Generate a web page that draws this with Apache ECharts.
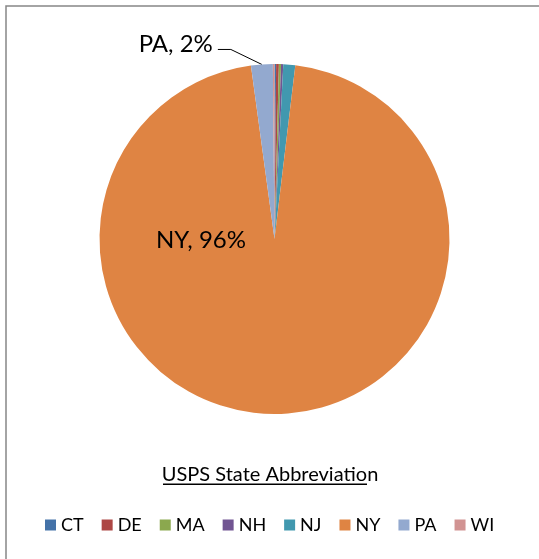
<!DOCTYPE html>
<html>
<head>
<meta charset="utf-8">
<style>
  html, body { margin: 0; padding: 0; background: #fff; }
  #chart { width: 539px; height: 559px; }
</style>
<script src="https://cdn.jsdelivr.net/npm/echarts@6/dist/echarts.min.js"></script>
</head>
<body>
<div id="chart"></div>
<script>
// Share of records by mailing state (percent)
const states = ['CT', 'DE', 'MA', 'NH', 'NJ', 'NY', 'PA', 'WI'];
const shares = [0.15, 0.25, 0.2, 0.2, 1.1, 95.9, 2.0, 0.15];
const stateColors = ['#4472A8', '#AD4744', '#8BA84E', '#715592', '#4198AF', '#DF8443', '#93A9CF', '#D19392'];
const labelledStates = ['NY', 'PA'];
const legendTitle = 'USPS State Abbreviation';

const FONT = 'Lato, "Open Sans", sans-serif';
const CX = 274.5, CY = 239, R = 175;

// mid-angle of a slice, measured clockwise from 12 o'clock (radians)
function midAngle(idx) {
  const total = shares.reduce((a, b) => a + b, 0);
  let before = 0;
  for (let i = 0; i < idx; i++) before += shares[i];
  return ((before + shares[idx] / 2) / total) * Math.PI * 2;
}

const chart = echarts.init(document.getElementById('chart'), null, { renderer: 'canvas' });

const data = states.map((s, i) => ({
  name: s,
  value: shares[i],
  itemStyle: { color: stateColors[i] },
  label: { show: labelledStates.includes(s) },
  labelLine: { show: s === 'PA' }
}));

chart.setOption({
  animation: false,
  title: {
    text: legendTitle,
    left: 265,
    top: 460,
    textAlign: 'center',
    textStyle: { fontFamily: FONT, fontSize: 20, fontWeight: 'normal', color: '#000' }
  },
  graphic: [
    { type: 'rect', shape: { x: 6, y: 6, width: 700, height: 700 },
      style: { fill: 'none', stroke: '#868686', lineWidth: 1.5 }, silent: true },
    { type: 'rect', shape: { x: 163, y: 483.5, width: 204, height: 1.5 },
      style: { fill: '#000' }, silent: true }
  ],
  legend: {
    data: states,
    left: 40,
    top: 511,
    itemWidth: 11,
    itemHeight: 11,
    itemGap: 18,
    icon: 'rect',
    selectedMode: false,
    textStyle: { fontFamily: FONT, fontSize: 18, color: '#000' }
  },
  series: [{
    type: 'pie',
    center: [CX, CY],
    radius: R,
    startAngle: 90,
    clockwise: true,
    avoidLabelOverlap: false,
    percentPrecision: 0,
    silent: true,
    data: data,
    itemStyle: { borderWidth: 0 },
    label: {
      position: 'outside',
      formatter: '{b}, {d}%',
      fontFamily: FONT,
      fontSize: 24,
      color: '#000'
    },
    labelLine: { lineStyle: { color: '#000', width: 1 }, length: 20, length2: 10 },
    emphasis: { disabled: true },
    labelLayout: function (p) {
      const name = states[p.dataIndex];
      if (name === 'NY') {
        return { x: CX - 0.42 * R, y: CY + 1, align: 'center', verticalAlign: 'middle' };
      }
      if (name === 'PA') {
        const a = midAngle(p.dataIndex);
        const ex = CX + R * Math.sin(a), ey = CY - R * Math.cos(a);
        const bx = ex - 31, by = ey - 15;
        const tx = bx - 13, ty = by;
        return {
          x: tx - 5, y: ty - 5, align: 'right', verticalAlign: 'middle',
          labelLinePoints: [[ex, ey], [bx, by], [tx, ty]]
        };
      }
      return {};
    }
  }]
});
</script>
</body>
</html>
